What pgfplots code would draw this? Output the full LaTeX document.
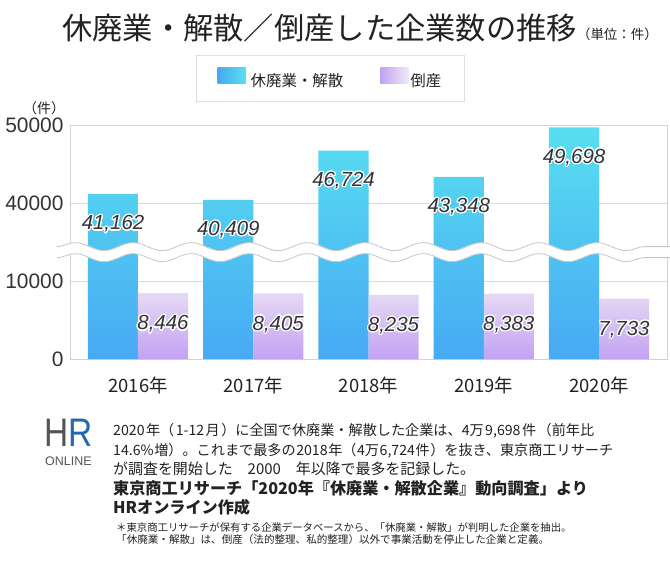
\documentclass[border=0pt]{standalone}
\usepackage{fontspec}
\setmainfont{Liberation Sans}
\newfontfamily\jp{Noto Sans CJK JP}
\usepackage{pgfplots}
\pgfplotsset{compat=1.18}
\usepackage{contour}
\contourlength{1.3pt}
\contournumber{16}
\usetikzlibrary{decorations.pathmorphing}
\definecolor{blueTop}{HTML}{58DFEF}
\definecolor{blueBot}{HTML}{47A9F4}
\definecolor{purTop}{HTML}{E6D9F4}
\definecolor{purBot}{HTML}{C2A2F3}
\definecolor{hrgray}{HTML}{555555}
\definecolor{hrblue}{HTML}{2468B0}
\definecolor{txt}{HTML}{222222}
\newcommand\gap{\hspace{0pt plus 1fill}}
\begin{document}
\begin{tikzpicture}
\path[use as bounding box] (0,0) rectangle (670bp,-562bp);
\fill[white] (0,0) rectangle (670bp,-562bp);
\node[anchor=base west, inner sep=0, text=txt] at (62bp,-39bp)
  {\jp\fontsize{30.4}{32}\selectfont 休廃業・解散／倒産した企業数の推移{\fontsize{13.5}{14}\selectfont （単位：件）}};
\begin{axis}[
  scale only axis, width=597bp, height=234bp,
  at={(70bp,-359bp)}, anchor=south west,
  xmin=-0.59, xmax=4.59, ymin=0, ymax=30000,
  xtick={0,1,2,3,4},
  xticklabels={2016年,2017年,2018年,2019年,2020年},
  ytick={0,10000,20000,30000},
  yticklabels={0,10000,40000,50000},
  scaled y ticks=false,
  major tick length=0,
  axis line style={draw=gray!35, line width=0.8bp},
  ymajorgrids, grid style={draw=gray!30, line width=0.8bp},
  xticklabel style={font=\jp\fontsize{18.5}{20}\selectfont, text=txt, yshift=-14bp},
  yticklabel style={font=\fontsize{21}{22}\selectfont, text=black!80, xshift=-3bp},
  ylabel={\jp\fontsize{14}{15}\selectfont （件）},
  every axis y label/.style={at={(axis description cs:-0.008,1)}, anchor=east, yshift=17bp, inner sep=0, text=txt},
  clip=false,
  legend style={
    at={(axis description cs:0.4363,1)}, anchor=south, yshift=23bp,
    draw=gray!25, line width=1bp,
    font=\jp\fontsize{15.5}{18}\selectfont, text=txt,
    inner xsep=21bp, inner ysep=12bp,
    /tikz/every even column/.append style={column sep=35bp},
  },
  legend columns=2,
  nodes near coords={\contour{white}{\itshape\pgfplotspointmeta}},
  nodes near coords align={below},
  every node near coord/.append style={font=\fontsize{20.5}{22}\selectfont, text=black!80},
]
\addplot[ybar, bar width=0.434, bar shift=-0.217, draw=none,
  top color=blueTop, bottom color=blueBot,
  point meta=explicit symbolic,
  every node near coord/.append style={yshift=-18bp, xshift=-25bp},
  legend image code/.code={\shade[left color=blueBot, right color=blueTop] (0bp,-3bp) rectangle (28bp,13bp);}]
  table[meta=lbl] {
x y lbl
0 21162 41,162
1 20409 40,409
2 26724 46,724
3 23348 43,348
4 29698 49,698
};
\addlegendentry{\hspace{3bp}休廃業・解散}
\addplot[ybar, bar width=0.434, bar shift=0.217, draw=none,
  top color=purTop, bottom color=purBot,
  point meta=explicit symbolic,
  every node near coord/.append style={yshift=-19bp, xshift=25bp},
  legend image code/.code={\shade[left color=purBot, right color=purTop!60!white] (0bp,-3bp) rectangle (28bp,13bp);}]
  table[meta=lbl] {
x y lbl
0 8446 8,446
1 8405 8,405
2 8235 8,235
3 8383 8,383
4 7733 7,733
};
\addlegendentry{倒産\hspace{28bp}}
\draw[white, line width=11bp, decorate, decoration={snake, segment length=58bp, amplitude=4bp}]
  (axis cs:-0.703,13700) -- (axis cs:4.62,13700);
\draw[gray!45, line width=0.8bp, decorate, decoration={snake, segment length=58bp, amplitude=4bp}, yshift=5.5bp]
  (axis cs:-0.703,13700) -- (axis cs:4.62,13700);
\draw[gray!45, line width=0.8bp, decorate, decoration={snake, segment length=58bp, amplitude=4bp}, yshift=-5.5bp]
  (axis cs:-0.703,13700) -- (axis cs:4.62,13700);
\end{axis}
% logo
\node[anchor=base west, inner sep=0, text depth=0pt] at (44bp,-446bp)
  {\scalebox{0.84}[1]{\fontsize{40}{40}\selectfont\textcolor{hrgray}{H}\textcolor{hrblue}{R}}};
\node[anchor=base west, inner sep=0, text=hrgray] at (45bp,-465bp)
  {\fontsize{12.5}{13}\selectfont ONLINE};
% notes
\begin{scope}[every node/.style={anchor=base west, inner sep=0, text=txt}]
\node at (113bp,-435bp) {\jp\fontsize{14.2}{16}\selectfont\hbox to 481bp{2020\gap 年（\gap 1-12\gap 月\gap ）に全国で休廃業・解散した企業は、4万\gap 9,698\gap 件\gap （前年比}};
\node at (113bp,-455bp) {\jp\fontsize{14.2}{16}\selectfont\hbox to 500bp{14.6\%\gap 増）。これまで最多の\gap 2018\gap 年（\gap 4万\gap 6,724\gap 件\gap ）を抜き、東京商工リサーチ}};
\node at (113bp,-474bp) {\jp\fontsize{15}{16}\selectfont\hbox to 362bp{が調査を開始した\gap 2000\gap 年以降で最多を記録した。}};
\node at (113bp,-494bp) {\jp\bfseries\fontsize{16.2}{18}\selectfont 東京商工リサーチ「2020年『休廃業・解散企業』動向調査」より};
\node at (113bp,-513bp) {\jp\bfseries\fontsize{16.2}{18}\selectfont HRオンライン作成};
\node at (116bp,-531bp) {\jp\fontsize{10.4}{11}\selectfont ＊東京商工リサーチが保有する企業データベースから、「休廃業・解散」が判明した企業を抽出。};
\node at (116bp,-543bp) {\jp\fontsize{10.6}{11}\selectfont 「休廃業・解散」は、倒産（法的整理、私的整理）以外で事業活動を停止した企業と定義。};
\end{scope}
\end{tikzpicture}
\end{document}
